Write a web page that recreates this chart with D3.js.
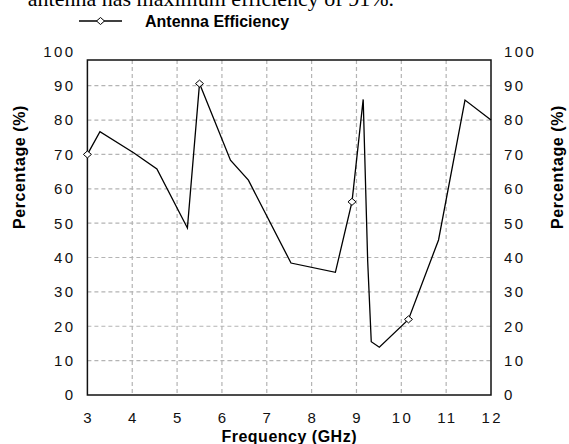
<!DOCTYPE html>
<html>
<head>
<meta charset="utf-8">
<script src="https://cdn.jsdelivr.net/npm/d3@7"></script>
<style>
  html, body { margin: 0; padding: 0; background: #fff; }
  svg { display: block; }
</style>
</head>
<body>
<div id="chart"></div>
<script>
// ---- data ----
const frequency = [3.0, 3.28, 4.03, 4.55, 5.23, 5.50, 6.19, 6.59, 7.54, 8.53, 8.90, 9.15, 9.25, 9.33, 9.51, 10.16, 10.83, 11.42, 12.0];
const efficiency = [70.0, 76.6, 70.5, 65.8, 48.6, 90.6, 68.3, 62.5, 38.4, 35.7, 56.2, 86.0, 39.0, 15.5, 13.9, 22.0, 45.1, 85.8, 80.0];
const markerIdx = [0, 5, 10, 15];
const xTicks = [3, 4, 5, 6, 7, 8, 9, 10, 11, 12];
const yTicks = [0, 10, 20, 30, 40, 50, 60, 70, 80, 90, 100];
const seriesName = "Antenna Efficiency";
const xTitle = "Frequency (GHz)";
const yTitle = "Percentage (%)";
const captionText = "antenna has maximum efficiency of 91%.";

// ---- layout ----
const W = 569, H = 444;
const left = 87.4, right = 491, bottom = 395, frameTop = 60, top100 = 51.3;

const svg = d3.select("#chart").append("svg").attr("width", W).attr("height", H);

const x = d3.scaleLinear().domain([3, 12]).range([left, right]);
const y = d3.scaleLinear().domain([0, 100]).range([bottom, top100]);

const sans = "'Liberation Sans', Arial, sans-serif";

// caption (cut off at the top edge, as in the reference)
svg.append("text").attr("x", 394).attr("y", 6).attr("text-anchor", "end")
  .attr("font-family", "'Liberation Serif', 'Times New Roman', serif")
  .attr("font-size", 22).attr("fill", "#000").text(captionText);

// grid
const gridColor = "#b4b4b4";
svg.append("g").selectAll("line").data(yTicks.filter(d => d > 0 && d < 100)).join("line")
  .attr("x1", left).attr("x2", right).attr("y1", d => y(d)).attr("y2", d => y(d))
  .attr("stroke", gridColor).attr("stroke-width", 1.2).attr("stroke-dasharray", "4,3");
svg.append("g").selectAll("line").data(xTicks.filter(d => d > 3 && d < 12)).join("line")
  .attr("y1", frameTop).attr("y2", bottom).attr("x1", d => x(d)).attr("x2", d => x(d))
  .attr("stroke", gridColor).attr("stroke-width", 1.2).attr("stroke-dasharray", "4,3");

// frame
svg.append("rect").attr("x", left).attr("y", frameTop).attr("width", right - left).attr("height", bottom - frameTop)
  .attr("fill", "none").attr("stroke", "#111").attr("stroke-width", 1.5);

// tick labels
const ls = 2.4, fs = 15;
svg.append("g").selectAll("text").data(yTicks).join("text")
  .attr("x", 73 + ls).attr("y", d => y(d)).attr("dy", "0.36em").attr("text-anchor", "end")
  .attr("font-family", sans).attr("font-size", fs).attr("letter-spacing", ls).attr("fill", "#111")
  .text(d => d);
svg.append("g").selectAll("text").data(yTicks).join("text")
  .attr("x", 504).attr("y", d => y(d)).attr("dy", "0.36em").attr("text-anchor", "start")
  .attr("font-family", sans).attr("font-size", fs).attr("letter-spacing", ls).attr("fill", "#111")
  .text(d => d);
svg.append("g").selectAll("text").data(xTicks).join("text")
  .attr("x", d => x(d) + ls / 2).attr("y", 423).attr("text-anchor", "middle")
  .attr("font-family", sans).attr("font-size", fs).attr("letter-spacing", ls).attr("fill", "#111")
  .text(d => d);

// axis titles
svg.append("text").attr("x", (left + right) / 2).attr("y", 441.5).attr("text-anchor", "middle")
  .attr("font-family", sans).attr("font-size", 16).attr("font-weight", "bold").attr("letter-spacing", 0.5)
  .text(xTitle);
svg.append("text").attr("transform", "translate(24.5,167) rotate(-90)").attr("text-anchor", "middle")
  .attr("font-family", sans).attr("font-size", 16).attr("font-weight", "bold").attr("letter-spacing", 0.6)
  .text(yTitle);
svg.append("text").attr("transform", "translate(563,167) rotate(-90)").attr("text-anchor", "middle")
  .attr("font-family", sans).attr("font-size", 16).attr("font-weight", "bold").attr("letter-spacing", 0.6)
  .text(yTitle);

// series line
const pts = frequency.map((f, i) => [f, efficiency[i]]);
const line = d3.line().x(d => x(d[0])).y(d => y(d[1]));
svg.append("path").datum(pts).attr("d", line).attr("fill", "none")
  .attr("stroke", "#000").attr("stroke-width", 1.3).attr("stroke-linejoin", "miter");

const diamond = (cx, cy) => `M${cx - 4},${cy} L${cx},${cy - 3.5} L${cx + 4},${cy} L${cx},${cy + 3.5} Z`;
svg.append("g").selectAll("path").data(markerIdx.map(i => pts[i])).join("path")
  .attr("d", d => diamond(x(d[0]), y(d[1])))
  .attr("fill", "#fff").attr("stroke", "#000").attr("stroke-width", 1);

// legend
svg.append("line").attr("x1", 79).attr("x2", 122).attr("y1", 21).attr("y2", 21)
  .attr("stroke", "#000").attr("stroke-width", 1.3);
svg.append("path").attr("d", diamond(100.5, 21)).attr("fill", "#fff").attr("stroke", "#000").attr("stroke-width", 1);
svg.append("text").attr("x", 145).attr("y", 26.5)
  .attr("font-family", sans).attr("font-size", 16).attr("font-weight", "bold").text(seriesName);
</script>
</body>
</html>
